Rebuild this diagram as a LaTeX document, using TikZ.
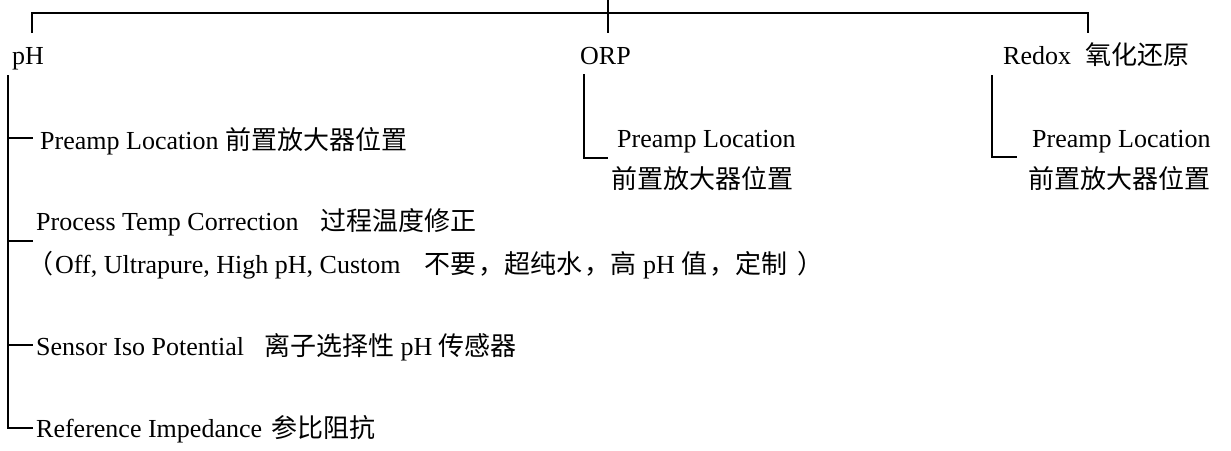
\documentclass[tikz,border=0pt]{standalone}
\usepackage{fontspec}
\setmainfont{Liberation Serif}
\newfontfamily\cjk{Noto Sans CJK SC}
\begin{document}
\begin{tikzpicture}[x=1pt,y=-1pt,
  txt/.style={anchor=base west, inner sep=0pt, font=\fontsize{26}{30}\selectfont},
  tree/.style={line width=1.7pt, line cap=butt, line join=miter}]
\useasboundingbox (0,0) rectangle (1231,450);

% labels
\node[txt] (ph) at (12,64) {pH};
\node[txt] (orp) at (580,64) {ORP};
\node[txt] (redox) at (1003,64) {Redox\hspace{14pt}{\cjk 氧化还原}};
\node[txt] (phpre) at (40,149) {Preamp Location {\cjk 前置放大器位置}};
\node[txt] (ptc) at (36,230) {Process Temp Correction\hspace{22pt}{\cjk 过程温度修正}};
\node[txt] (ptcopt) at (27,273) {{\cjk （}\hspace{2pt}Off, Ultrapure, High pH, Custom\hspace{24pt}{\cjk 不要}\hspace{2pt}{\cjk ，超纯水}\hspace{2pt}{\cjk ，高} pH {\cjk 值}\hspace{2pt}{\cjk ，定制}\hspace{10pt}{\cjk ）}};
\node[txt] (sip) at (36,355) {Sensor Iso Potential\hspace{20pt}{\cjk 离子选择性} pH {\cjk 传感器}};
\node[txt] (ref) at (36,437) {Reference Impedance\hspace{9pt}{\cjk 参比阻抗}};
\node[txt] (orppre) at (617,147) {Preamp Location};
\node[txt] (orpcn) at (611,188) {\cjk 前置放大器位置};
\node[txt] (rdpre) at (1032,147) {Preamp Location};
\node[txt] (rdcn) at (1028,188) {\cjk 前置放大器位置};

% tree coordinates
\coordinate (root) at (608,0);
\coordinate (busM) at (608,33);
\coordinate (busL) at (32,13);
\coordinate (busR) at (1088,13);
\coordinate (dropL) at (32,33);
\coordinate (dropR) at (1088,33);

\coordinate (phTop) at (8,75);
\coordinate (phBot) at (8,428);
\coordinate (refEnd) at (33,428);
\coordinate (t1a) at (8,138);  \coordinate (t1b) at (33,138);
\coordinate (t2a) at (8,241);  \coordinate (t2b) at (33,241);
\coordinate (t3a) at (8,345);  \coordinate (t3b) at (33,345);

\coordinate (orpTop) at (584,74);
\coordinate (orpBot) at (584,158);
\coordinate (orpEnd) at (608,158);

\coordinate (rdTop) at (992,75);
\coordinate (rdBot) at (992,157);
\coordinate (rdEnd) at (1017,157);

% connectors
\draw[tree] (root) -- (busM);
\draw[tree] (dropL) -- (busL) -- (busR) -- (dropR);
\draw[tree] (phTop) -- (phBot) -- (refEnd);
\draw[tree] (t1a) -- (t1b);
\draw[tree] (t2a) -- (t2b);
\draw[tree] (t3a) -- (t3b);
\draw[tree] (orpTop) -- (orpBot) -- (orpEnd);
\draw[tree] (rdTop) -- (rdBot) -- (rdEnd);
\end{tikzpicture}
\end{document}
